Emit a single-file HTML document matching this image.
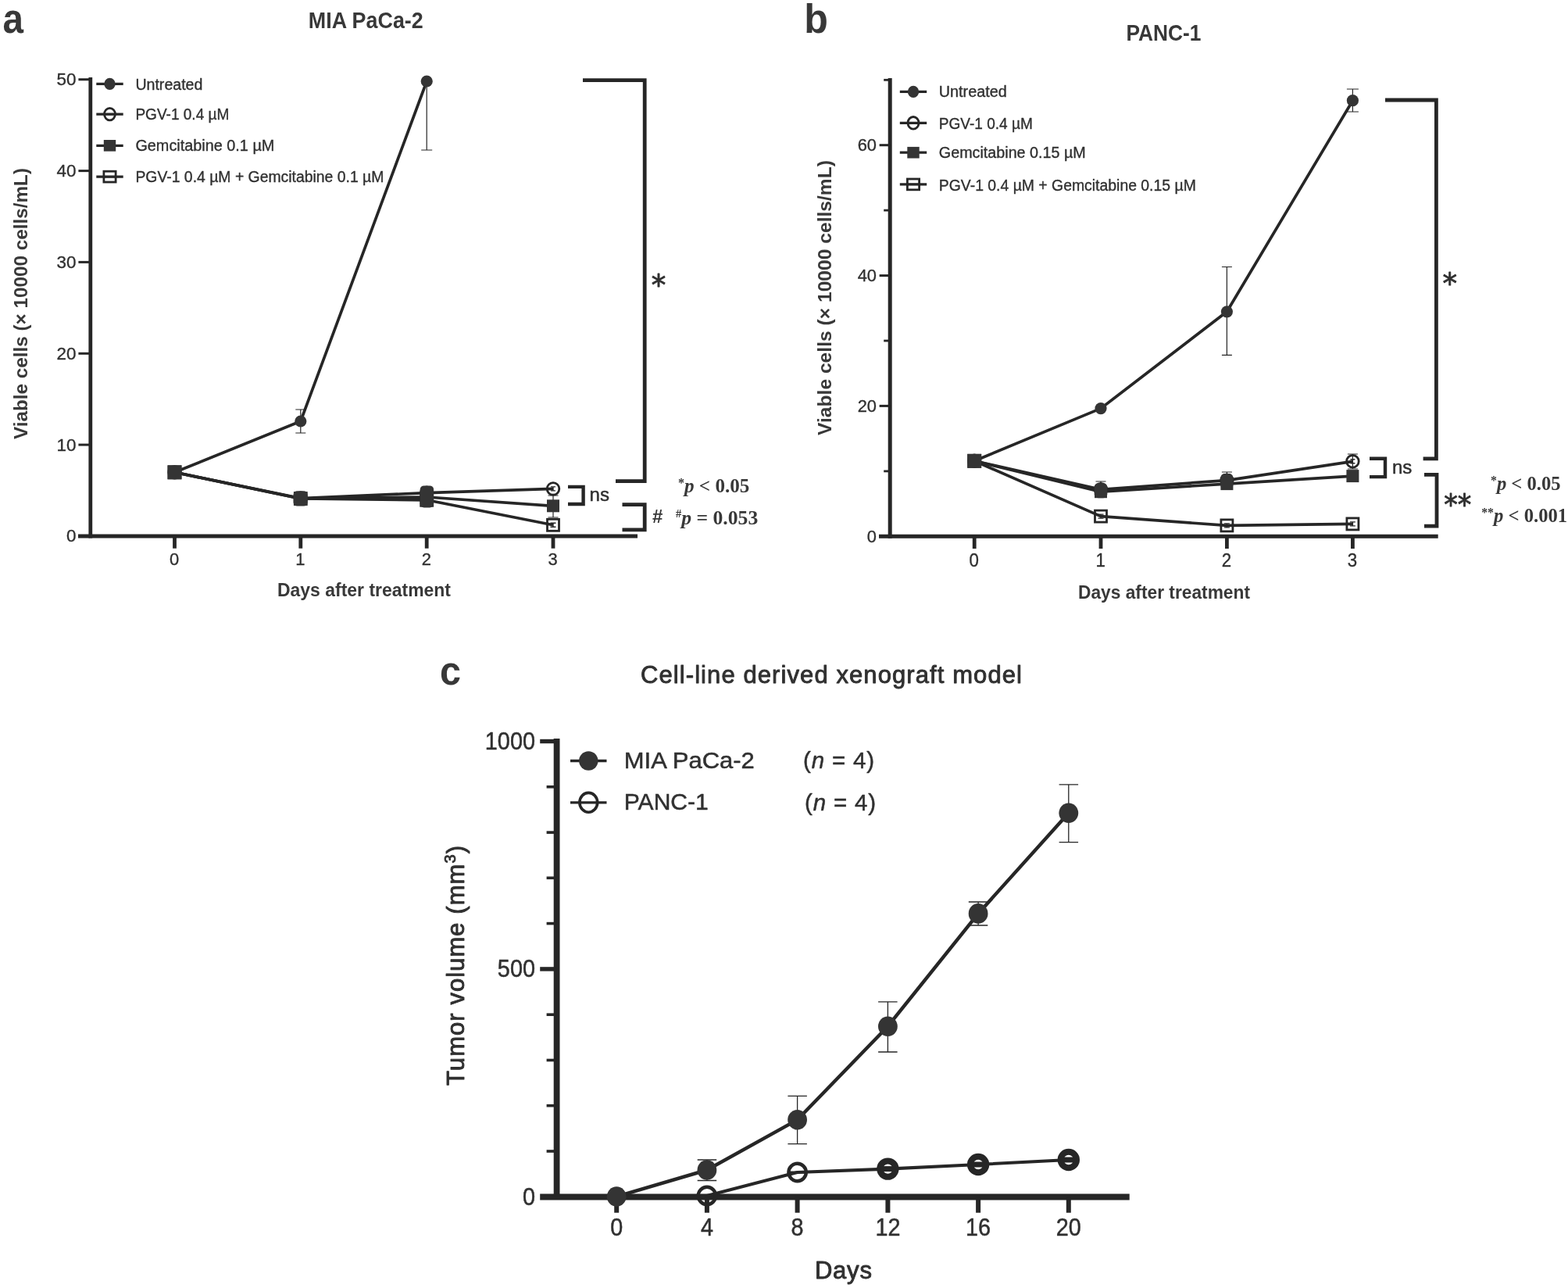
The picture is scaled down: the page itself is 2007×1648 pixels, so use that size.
<!DOCTYPE html>
<html lang="en">
<head>
<meta charset="utf-8">
<title>Figure: cell viability and xenograft tumor volume</title>
<style>
html,body{margin:0;padding:0;background:#fff;}
body{width:2007px;height:1648px;overflow:hidden;}
svg{display:block;}
text{stroke:#303030;stroke-width:0.35px;stroke-linejoin:round;white-space:pre;}
text[font-weight="bold"]{stroke:none;}
.s{font-family:"Liberation Sans",sans-serif;}
.r{font-family:"Liberation Serif",serif;}
.d{font-family:"DejaVu Sans","Liberation Sans",sans-serif;}
</style>
</head>
<body>
<svg width="2007" height="1648" viewBox="0 0 2007 1648">
<rect width="2007" height="1648" fill="#fff"/>
<g stroke="#262626" fill="#303030">
<g id="panel-a">
<line x1="115.8" y1="99.0" x2="115.8" y2="688.4" stroke-width="4.8"/>
<line x1="100.0" y1="686.0" x2="816.0" y2="686.0" stroke-width="5"/>
<line x1="100.4" y1="101.7" x2="115.8" y2="101.7" stroke-width="3"/>
<text x="97.4" y="109.1" font-size="22.4" class="s" text-anchor="end" textLength="24.9" lengthAdjust="spacingAndGlyphs">50</text>
<line x1="100.4" y1="218.6" x2="115.8" y2="218.6" stroke-width="3"/>
<text x="97.4" y="226.0" font-size="22.4" class="s" text-anchor="end" textLength="24.9" lengthAdjust="spacingAndGlyphs">40</text>
<line x1="100.4" y1="335.4" x2="115.8" y2="335.4" stroke-width="3"/>
<text x="97.4" y="342.8" font-size="22.4" class="s" text-anchor="end" textLength="24.9" lengthAdjust="spacingAndGlyphs">30</text>
<line x1="100.4" y1="452.3" x2="115.8" y2="452.3" stroke-width="3"/>
<text x="97.4" y="459.7" font-size="22.4" class="s" text-anchor="end" textLength="24.9" lengthAdjust="spacingAndGlyphs">20</text>
<line x1="100.4" y1="569.1" x2="115.8" y2="569.1" stroke-width="3"/>
<text x="97.4" y="576.5" font-size="22.4" class="s" text-anchor="end" textLength="24.9" lengthAdjust="spacingAndGlyphs">10</text>
<text x="97.4" y="693.4" font-size="22.4" class="s" text-anchor="end" textLength="12.45" lengthAdjust="spacingAndGlyphs">0</text>
<line x1="223.5" y1="686.0" x2="223.5" y2="701.7" stroke-width="4.8"/>
<text x="223.1" y="723.1" font-size="22.4" class="s" text-anchor="middle" textLength="12.2" lengthAdjust="spacingAndGlyphs">0</text>
<line x1="384.8" y1="686.0" x2="384.8" y2="701.7" stroke-width="4.8"/>
<text x="384.4" y="723.1" font-size="22.4" class="s" text-anchor="middle" textLength="12.2" lengthAdjust="spacingAndGlyphs">1</text>
<line x1="546.2" y1="686.0" x2="546.2" y2="701.7" stroke-width="4.8"/>
<text x="545.8" y="723.1" font-size="22.4" class="s" text-anchor="middle" textLength="12.2" lengthAdjust="spacingAndGlyphs">2</text>
<line x1="708.0" y1="686.0" x2="708.0" y2="701.7" stroke-width="4.8"/>
<text x="707.6" y="723.1" font-size="22.4" class="s" text-anchor="middle" textLength="12.2" lengthAdjust="spacingAndGlyphs">3</text>
<polyline points="223.5,604.3 384.8,539.0 546.2,104.0" fill="none" stroke-width="3.7" stroke-linejoin="round"/>
<polyline points="223.5,604.3 384.8,637.5 546.2,630.6 708.0,625.4" fill="none" stroke-width="3.7" stroke-linejoin="round"/>
<polyline points="223.5,604.3 384.8,638.0 546.2,636.0 708.0,647.3" fill="none" stroke-width="3.7" stroke-linejoin="round"/>
<polyline points="223.5,604.3 384.8,638.0 546.2,639.8 708.0,671.8" fill="none" stroke-width="3.7" stroke-linejoin="round"/>
<path d="M384.8 524.0V554.0M378.3 524.0h13M378.3 554.0h13" fill="none" stroke-width="1.2"/>
<path d="M546.2 104.0V192.0M539.2 104.0h14M539.2 192.0h14" fill="none" stroke-width="1.2"/>
<path d="M708.0 634.0V662.0M701.5 634.0h13M701.5 662.0h13" fill="none" stroke-width="1.2"/>
<ellipse cx="223.5" cy="604.3" rx="7.80" ry="7.80" fill="none" stroke-width="2.8"/>
<path d="M220.5 601.8h6M223.5 601.8v5M220.5 606.8h6" fill="none" stroke-width="1.4"/>
<ellipse cx="384.8" cy="637.5" rx="7.80" ry="7.80" fill="none" stroke-width="2.8"/>
<path d="M381.8 635.0h6M384.8 635.0v5M381.8 640.0h6" fill="none" stroke-width="1.4"/>
<ellipse cx="546.2" cy="630.6" rx="7.80" ry="7.80" fill="none" stroke-width="2.8"/>
<path d="M543.2 628.1h6M546.2 628.1v5M543.2 633.1h6" fill="none" stroke-width="1.4"/>
<ellipse cx="708.0" cy="625.4" rx="7.80" ry="7.80" fill="none" stroke-width="2.8"/>
<path d="M705.0 622.9h6M708.0 622.9v5M705.0 627.9h6" fill="none" stroke-width="1.4"/>
<rect x="216.0" y="596.8" width="15.0" height="15.0" fill="none" stroke-width="2.8"/>
<path d="M220.0 601.8h7M223.5 601.8v5M220.0 606.8h7" fill="none" stroke-width="1.4"/>
<rect x="377.3" y="630.5" width="15.0" height="15.0" fill="none" stroke-width="2.8"/>
<path d="M381.3 635.5h7M384.8 635.5v5M381.3 640.5h7" fill="none" stroke-width="1.4"/>
<rect x="538.7" y="632.3" width="15.0" height="15.0" fill="none" stroke-width="2.8"/>
<path d="M542.7 637.3h7M546.2 637.3v5M542.7 642.3h7" fill="none" stroke-width="1.4"/>
<rect x="700.5" y="664.3" width="15.0" height="15.0" fill="none" stroke-width="2.8"/>
<path d="M704.5 669.3h7M708.0 669.3v5M704.5 674.3h7" fill="none" stroke-width="1.4"/>
<ellipse cx="223.5" cy="604.3" rx="7.6" ry="7.6" fill="#343434" stroke="none"/>
<ellipse cx="384.8" cy="539.0" rx="7.6" ry="7.6" fill="#343434" stroke="none"/>
<ellipse cx="546.2" cy="104.0" rx="7.6" ry="7.6" fill="#343434" stroke="none"/>
<rect x="215.5" y="596.3" width="16" height="16" fill="#343434" stroke="none"/>
<rect x="376.8" y="630.0" width="16" height="16" fill="#343434" stroke="none"/>
<rect x="538.2" y="628.0" width="16" height="16" fill="#343434" stroke="none"/>
<rect x="700.0" y="639.3" width="16" height="16" fill="#343434" stroke="none"/>
<rect x="214.5" y="595.3" width="18" height="18" fill="#343434" stroke="none"/>
<rect x="537.7" y="621.4" width="17.4" height="28.0" rx="5" fill="#343434" stroke="none"/>
<rect x="375.5" y="628.2" width="18.2" height="19.4" rx="5" fill="#343434" stroke="none"/>
<line x1="123.3" y1="107.4" x2="157.7" y2="107.4" stroke-width="3.2"/>
<ellipse cx="140.5" cy="107.4" rx="7.2" ry="7.6" fill="#343434" stroke="none"/>
<text x="173.4" y="114.5" font-size="19.4" class="s" textLength="86" lengthAdjust="spacingAndGlyphs">Untreated</text>
<line x1="123.3" y1="146.1" x2="157.7" y2="146.1" stroke-width="3.2"/>
<ellipse cx="140.5" cy="146.1" rx="7.00" ry="7.80" fill="none" stroke-width="2.8"/>
<line x1="134.5" y1="146.1" x2="146.5" y2="146.1" stroke-width="2.4"/>
<text x="173.4" y="153.3" font-size="19.4" class="s" textLength="120" lengthAdjust="spacingAndGlyphs">PGV-1 0.4 µM</text>
<line x1="123.3" y1="186.3" x2="157.7" y2="186.3" stroke-width="3.2"/>
<rect x="132.8" y="179.0" width="15.4" height="14.6" fill="#343434" stroke="none"/>
<text x="173.4" y="193.4" font-size="19.4" class="s" textLength="178" lengthAdjust="spacingAndGlyphs">Gemcitabine 0.1 µM</text>
<line x1="123.3" y1="226.1" x2="157.7" y2="226.1" stroke-width="3.2"/>
<rect x="132.9" y="219.2" width="15.2" height="13.8" fill="none" stroke-width="2.8"/>
<line x1="133.5" y1="226.1" x2="147.5" y2="226.1" stroke-width="2.4"/>
<text x="173.4" y="233.2" font-size="19.4" class="s" textLength="318" lengthAdjust="spacingAndGlyphs">PGV-1 0.4 µM + Gemcitabine 0.1 µM</text>
<text x="3.5" y="42.0" font-size="54" class="s" font-weight="bold" textLength="26.5" lengthAdjust="spacingAndGlyphs" fill="#383838">a</text>
<text x="468.3" y="36.3" font-size="28.6" class="s" font-weight="bold" text-anchor="middle" textLength="147" lengthAdjust="spacingAndGlyphs" fill="#383838">MIA PaCa-2</text>
<text x="35.0" y="388.5" font-size="24.3" class="s" font-weight="bold" text-anchor="middle" transform="rotate(-90 35.0 388.5)" textLength="347" lengthAdjust="spacingAndGlyphs" fill="#383838">Viable cells (× 10000 cells/mL)</text>
<text x="466.0" y="763.0" font-size="23" class="s" font-weight="bold" text-anchor="middle" textLength="222" lengthAdjust="spacingAndGlyphs" fill="#383838">Days after treatment</text>
<path d="M746.0 102.7H825.2V615.7H788.0" fill="none" stroke-width="4.8" stroke-linejoin="miter"/>
<text x="842.9" y="378.2" font-size="37" class="d" text-anchor="middle" style="stroke:#303030;stroke-width:0.9px;stroke-linejoin:round">*</text>
<path d="M727.0 622.9H746.6V645.0H727.0" fill="none" stroke-width="4.4" stroke-linejoin="miter"/>
<text x="754.6" y="641.4" font-size="24" class="s" style="stroke:#303030;stroke-width:0.5px">ns</text>
<path d="M796.5 645.7H825.2V677.9H796.5" fill="none" stroke-width="4.8" stroke-linejoin="miter"/>
<text x="841.7" y="668.8" font-size="24" class="s" font-weight="bold" text-anchor="middle" fill="#383838">#</text>
<text x="868.0" y="629.6" font-size="25" class="r" font-weight="bold" fill="#383838" textLength="91.4" lengthAdjust="spacingAndGlyphs"><tspan font-size="16" dy="-7">*</tspan><tspan dy="7" font-style="italic">p</tspan> &lt; 0.05</text>
<text x="865.0" y="670.8" font-size="25" class="r" font-weight="bold" fill="#383838" textLength="105.3" lengthAdjust="spacingAndGlyphs"><tspan font-size="14" dy="-9">#</tspan><tspan dy="9" font-style="italic">p</tspan> = 0.053</text>
</g>
<g id="panel-b">
<line x1="1139.2" y1="99.9" x2="1139.2" y2="688.7" stroke-width="5"/>
<line x1="1125.0" y1="686.3" x2="1840.7" y2="686.3" stroke-width="5"/>
<line x1="1131.2" y1="102.3" x2="1139.2" y2="102.3" stroke-width="2.8"/>
<line x1="1125.6" y1="185.7" x2="1139.2" y2="185.7" stroke-width="3"/>
<text x="1122.0" y="193.1" font-size="22.6" class="s" text-anchor="end" textLength="24.3" lengthAdjust="spacingAndGlyphs">60</text>
<line x1="1131.2" y1="269.1" x2="1139.2" y2="269.1" stroke-width="2.8"/>
<line x1="1125.6" y1="352.6" x2="1139.2" y2="352.6" stroke-width="3"/>
<text x="1122.0" y="360.0" font-size="22.6" class="s" text-anchor="end" textLength="24.3" lengthAdjust="spacingAndGlyphs">40</text>
<line x1="1131.2" y1="436.0" x2="1139.2" y2="436.0" stroke-width="2.8"/>
<line x1="1125.6" y1="519.4" x2="1139.2" y2="519.4" stroke-width="3"/>
<text x="1122.0" y="526.8" font-size="22.6" class="s" text-anchor="end" textLength="24.3" lengthAdjust="spacingAndGlyphs">20</text>
<line x1="1131.2" y1="602.9" x2="1139.2" y2="602.9" stroke-width="2.8"/>
<text x="1122.0" y="693.7" font-size="22.6" class="s" text-anchor="end" textLength="12.15" lengthAdjust="spacingAndGlyphs">0</text>
<line x1="1247.2" y1="686.3" x2="1247.2" y2="702.0" stroke-width="4.8"/>
<text x="1246.8" y="725.4" font-size="24.5" class="s" text-anchor="middle" textLength="12.4" lengthAdjust="spacingAndGlyphs">0</text>
<line x1="1409.0" y1="686.3" x2="1409.0" y2="702.0" stroke-width="4.8"/>
<text x="1408.6" y="725.4" font-size="24.5" class="s" text-anchor="middle" textLength="12.4" lengthAdjust="spacingAndGlyphs">1</text>
<line x1="1570.4" y1="686.3" x2="1570.4" y2="702.0" stroke-width="4.8"/>
<text x="1570.0" y="725.4" font-size="24.5" class="s" text-anchor="middle" textLength="12.4" lengthAdjust="spacingAndGlyphs">2</text>
<line x1="1731.4" y1="686.3" x2="1731.4" y2="702.0" stroke-width="4.8"/>
<text x="1731.0" y="725.4" font-size="24.5" class="s" text-anchor="middle" textLength="12.4" lengthAdjust="spacingAndGlyphs">3</text>
<polyline points="1247.2,589.8 1409.0,522.6 1570.4,398.8 1731.4,128.7" fill="none" stroke-width="3.7" stroke-linejoin="round"/>
<polyline points="1247.2,589.8 1409.0,626.3 1570.4,614.6 1731.4,590.3" fill="none" stroke-width="3.7" stroke-linejoin="round"/>
<polyline points="1247.2,589.8 1409.0,629.2 1570.4,619.1 1731.4,609.1" fill="none" stroke-width="3.7" stroke-linejoin="round"/>
<polyline points="1247.2,589.8 1409.0,660.6 1570.4,672.4 1731.4,670.4" fill="none" stroke-width="3.7" stroke-linejoin="round"/>
<path d="M1570.4 341.5V454.3M1563.9 341.5h13M1563.9 454.3h13" fill="none" stroke-width="1.2"/>
<path d="M1731.4 114.0V143.0M1723.9 114.0h15M1723.9 143.0h15" fill="none" stroke-width="1.2"/>
<path d="M1731.4 581.0V600.0M1724.9 581.0h13M1724.9 600.0h13" fill="none" stroke-width="1.2"/>
<path d="M1570.4 604.0V623.0M1563.9 604.0h13M1563.9 623.0h13" fill="none" stroke-width="1.2"/>
<path d="M1409.0 616.0V634.0M1402.5 616.0h13M1402.5 634.0h13" fill="none" stroke-width="1.2"/>
<ellipse cx="1247.2" cy="589.8" rx="7.80" ry="7.80" fill="none" stroke-width="2.8"/>
<path d="M1244.2 587.3h6M1247.2 587.3v5M1244.2 592.3h6" fill="none" stroke-width="1.4"/>
<ellipse cx="1409.0" cy="626.3" rx="7.80" ry="7.80" fill="none" stroke-width="2.8"/>
<path d="M1406.0 623.8h6M1409.0 623.8v5M1406.0 628.8h6" fill="none" stroke-width="1.4"/>
<ellipse cx="1570.4" cy="614.6" rx="7.80" ry="7.80" fill="none" stroke-width="2.8"/>
<path d="M1567.4 612.1h6M1570.4 612.1v5M1567.4 617.1h6" fill="none" stroke-width="1.4"/>
<ellipse cx="1731.4" cy="590.3" rx="7.80" ry="7.80" fill="none" stroke-width="2.8"/>
<path d="M1728.4 587.8h6M1731.4 587.8v5M1728.4 592.8h6" fill="none" stroke-width="1.4"/>
<rect x="1239.7" y="582.3" width="15.0" height="15.0" fill="none" stroke-width="2.8"/>
<path d="M1243.7 587.3h7M1247.2 587.3v5M1243.7 592.3h7" fill="none" stroke-width="1.4"/>
<rect x="1401.5" y="653.1" width="15.0" height="15.0" fill="none" stroke-width="2.8"/>
<path d="M1405.5 658.1h7M1409.0 658.1v5M1405.5 663.1h7" fill="none" stroke-width="1.4"/>
<rect x="1562.9" y="664.9" width="15.0" height="15.0" fill="none" stroke-width="2.8"/>
<path d="M1566.9 669.9h7M1570.4 669.9v5M1566.9 674.9h7" fill="none" stroke-width="1.4"/>
<rect x="1723.9" y="662.9" width="15.0" height="15.0" fill="none" stroke-width="2.8"/>
<path d="M1727.9 667.9h7M1731.4 667.9v5M1727.9 672.9h7" fill="none" stroke-width="1.4"/>
<ellipse cx="1247.2" cy="589.8" rx="7.6" ry="7.6" fill="#343434" stroke="none"/>
<ellipse cx="1409.0" cy="522.6" rx="7.6" ry="7.6" fill="#343434" stroke="none"/>
<ellipse cx="1570.4" cy="398.8" rx="7.6" ry="7.6" fill="#343434" stroke="none"/>
<ellipse cx="1731.4" cy="128.7" rx="7.6" ry="7.6" fill="#343434" stroke="none"/>
<rect x="1239.2" y="581.8" width="16" height="16" fill="#343434" stroke="none"/>
<rect x="1401.0" y="621.2" width="16" height="16" fill="#343434" stroke="none"/>
<rect x="1562.4" y="611.1" width="16" height="16" fill="#343434" stroke="none"/>
<rect x="1723.4" y="601.1" width="16" height="16" fill="#343434" stroke="none"/>
<rect x="1238.2" y="580.8" width="18" height="18" fill="#343434" stroke="none"/>
<rect x="1400.7" y="618.2" width="16.6" height="19.0" rx="5" fill="#343434" stroke="none"/>
<rect x="1562.6" y="606.0" width="15.6" height="20.8" rx="5" fill="#343434" stroke="none"/>
<line x1="1151.8" y1="117.4" x2="1186.2" y2="117.4" stroke-width="3.2"/>
<ellipse cx="1169.0" cy="117.4" rx="7.2" ry="7.6" fill="#343434" stroke="none"/>
<text x="1201.8" y="123.8" font-size="19.4" class="s" textLength="87" lengthAdjust="spacingAndGlyphs">Untreated</text>
<line x1="1151.8" y1="157.3" x2="1186.2" y2="157.3" stroke-width="3.2"/>
<ellipse cx="1169.0" cy="157.3" rx="7.00" ry="7.80" fill="none" stroke-width="2.8"/>
<line x1="1163.0" y1="157.3" x2="1175.0" y2="157.3" stroke-width="2.4"/>
<text x="1201.8" y="164.6" font-size="19.4" class="s" textLength="120" lengthAdjust="spacingAndGlyphs">PGV-1 0.4 µM</text>
<line x1="1151.8" y1="195.2" x2="1186.2" y2="195.2" stroke-width="3.2"/>
<rect x="1161.3" y="187.9" width="15.4" height="14.6" fill="#343434" stroke="none"/>
<text x="1201.8" y="201.7" font-size="19.4" class="s" textLength="188" lengthAdjust="spacingAndGlyphs">Gemcitabine 0.15 µM</text>
<line x1="1151.8" y1="235.9" x2="1186.2" y2="235.9" stroke-width="3.2"/>
<rect x="1161.4" y="229.0" width="15.2" height="13.8" fill="none" stroke-width="2.8"/>
<line x1="1162.0" y1="235.9" x2="1176.0" y2="235.9" stroke-width="2.4"/>
<text x="1201.8" y="243.5" font-size="19.4" class="s" textLength="329" lengthAdjust="spacingAndGlyphs">PGV-1 0.4 µM + Gemcitabine 0.15 µM</text>
<text x="1029.2" y="42.0" font-size="51" class="s" font-weight="bold" textLength="30.6" lengthAdjust="spacingAndGlyphs" fill="#383838">b</text>
<text x="1489.5" y="52.4" font-size="29.4" class="s" font-weight="bold" text-anchor="middle" textLength="96" lengthAdjust="spacingAndGlyphs" fill="#383838">PANC-1</text>
<text x="1063.5" y="381.0" font-size="24.3" class="s" font-weight="bold" text-anchor="middle" transform="rotate(-90 1063.5 381.0)" textLength="352" lengthAdjust="spacingAndGlyphs" fill="#383838">Viable cells (× 10000 cells/mL)</text>
<text x="1490.0" y="766.0" font-size="23" class="s" font-weight="bold" text-anchor="middle" textLength="220" lengthAdjust="spacingAndGlyphs" fill="#383838">Days after treatment</text>
<path d="M1773.0 128.0H1838.4V586.8H1821.6" fill="none" stroke-width="4.8" stroke-linejoin="miter"/>
<text x="1855.8" y="375.6" font-size="37" class="d" text-anchor="middle" style="stroke:#303030;stroke-width:0.9px;stroke-linejoin:round">*</text>
<path d="M1753.0 586.8H1773.0V610.1H1753.0" fill="none" stroke-width="4.4" stroke-linejoin="miter"/>
<text x="1782.0" y="606.0" font-size="24" class="s" style="stroke:#303030;stroke-width:0.5px">ns</text>
<path d="M1823.0 607.3H1839.0V673.1H1823.0" fill="none" stroke-width="4.8" stroke-linejoin="miter"/>
<text x="1865.7" y="658.8" font-size="37" class="d" text-anchor="middle" textLength="35" lengthAdjust="spacingAndGlyphs" style="stroke:#303030;stroke-width:0.9px;stroke-linejoin:round">**</text>
<text x="1908.0" y="626.6" font-size="25" class="r" font-weight="bold" fill="#383838" textLength="89.6" lengthAdjust="spacingAndGlyphs"><tspan font-size="16" dy="-7">*</tspan><tspan dy="7" font-style="italic">p</tspan> &lt; 0.05</text>
<text x="1896.2" y="667.7" font-size="25" class="r" font-weight="bold" fill="#383838" textLength="110" lengthAdjust="spacingAndGlyphs"><tspan font-size="16" dy="-7">**</tspan><tspan dy="7" font-style="italic">p</tspan> &lt; 0.001</text>
</g>
<g id="panel-c">
<line x1="712.6" y1="945.1" x2="712.6" y2="1535.1" stroke-width="7.8"/>
<line x1="691.2" y1="1531.5" x2="1445.7" y2="1531.5" stroke-width="7.8"/>
<line x1="699.6" y1="1473.0" x2="712.6" y2="1473.0" stroke-width="3.6"/>
<line x1="699.6" y1="1414.7" x2="712.6" y2="1414.7" stroke-width="3.6"/>
<line x1="699.6" y1="1356.5" x2="712.6" y2="1356.5" stroke-width="3.6"/>
<line x1="699.6" y1="1298.2" x2="712.6" y2="1298.2" stroke-width="3.6"/>
<line x1="691.2" y1="1239.9" x2="712.6" y2="1239.9" stroke-width="5.4"/>
<line x1="699.6" y1="1181.6" x2="712.6" y2="1181.6" stroke-width="3.6"/>
<line x1="699.6" y1="1123.3" x2="712.6" y2="1123.3" stroke-width="3.6"/>
<line x1="699.6" y1="1065.1" x2="712.6" y2="1065.1" stroke-width="3.6"/>
<line x1="699.6" y1="1006.8" x2="712.6" y2="1006.8" stroke-width="3.6"/>
<line x1="691.2" y1="948.5" x2="712.6" y2="948.5" stroke-width="5.4"/>
<text x="685.0" y="958.7" font-size="30.5" class="s" text-anchor="end" textLength="64.2" lengthAdjust="spacingAndGlyphs" style="stroke:#303030;stroke-width:0.5px;stroke-linejoin:round">1000</text>
<text x="685.0" y="1250.1" font-size="30.5" class="s" text-anchor="end" textLength="48.150000000000006" lengthAdjust="spacingAndGlyphs" style="stroke:#303030;stroke-width:0.5px;stroke-linejoin:round">500</text>
<text x="685.0" y="1541.5" font-size="30.5" class="s" text-anchor="end" textLength="16.05" lengthAdjust="spacingAndGlyphs" style="stroke:#303030;stroke-width:0.5px;stroke-linejoin:round">0</text>
<line x1="789.2" y1="1531.3" x2="789.2" y2="1551.7" stroke-width="6"/>
<text x="789.2" y="1581.2" font-size="30.6" class="s" text-anchor="middle" textLength="16" lengthAdjust="spacingAndGlyphs" style="stroke:#303030;stroke-width:0.5px;stroke-linejoin:round">0</text>
<line x1="904.9" y1="1531.3" x2="904.9" y2="1551.7" stroke-width="6"/>
<text x="904.9" y="1581.2" font-size="30.6" class="s" text-anchor="middle" textLength="16" lengthAdjust="spacingAndGlyphs" style="stroke:#303030;stroke-width:0.5px;stroke-linejoin:round">4</text>
<line x1="1020.6" y1="1531.3" x2="1020.6" y2="1551.7" stroke-width="6"/>
<text x="1020.6" y="1581.2" font-size="30.6" class="s" text-anchor="middle" textLength="16" lengthAdjust="spacingAndGlyphs" style="stroke:#303030;stroke-width:0.5px;stroke-linejoin:round">8</text>
<line x1="1136.4" y1="1531.3" x2="1136.4" y2="1551.7" stroke-width="6"/>
<text x="1136.4" y="1581.2" font-size="30.6" class="s" text-anchor="middle" textLength="32" lengthAdjust="spacingAndGlyphs" style="stroke:#303030;stroke-width:0.5px;stroke-linejoin:round">12</text>
<line x1="1252.1" y1="1531.3" x2="1252.1" y2="1551.7" stroke-width="6"/>
<text x="1252.1" y="1581.2" font-size="30.6" class="s" text-anchor="middle" textLength="32" lengthAdjust="spacingAndGlyphs" style="stroke:#303030;stroke-width:0.5px;stroke-linejoin:round">16</text>
<line x1="1367.8" y1="1531.3" x2="1367.8" y2="1551.7" stroke-width="6"/>
<text x="1367.8" y="1581.2" font-size="30.6" class="s" text-anchor="middle" textLength="32" lengthAdjust="spacingAndGlyphs" style="stroke:#303030;stroke-width:0.5px;stroke-linejoin:round">20</text>
<polyline points="789.2,1531.0 904.9,1497.0 1020.6,1432.8 1136.4,1313.2 1252.1,1168.9 1367.8,1040.3" fill="none" stroke-width="4.5" stroke-linejoin="round"/>
<polyline points="904.9,1530.0 1020.6,1500.0 1136.4,1495.6 1252.1,1490.0 1367.8,1484.0" fill="none" stroke-width="4.1" stroke-linejoin="round"/>
<path d="M904.9 1484.0V1510.5M892.7 1484.0h24.5M892.7 1510.5h24.5" fill="none" stroke-width="1.3"/>
<path d="M1020.6 1402.3V1463.6M1008.4 1402.3h24.5M1008.4 1463.6h24.5" fill="none" stroke-width="1.3"/>
<path d="M1136.4 1281.8V1346.0M1124.1 1281.8h24.5M1124.1 1346.0h24.5" fill="none" stroke-width="1.3"/>
<path d="M1252.1 1154.0V1184.0M1239.8 1154.0h24.5M1239.8 1184.0h24.5" fill="none" stroke-width="1.3"/>
<path d="M1367.8 1003.9V1077.7M1355.6 1003.9h24.5M1355.6 1077.7h24.5" fill="none" stroke-width="1.3"/>
<ellipse cx="789.2" cy="1531.0" rx="12.4" ry="12.8" fill="#343434" stroke="none"/>
<ellipse cx="904.9" cy="1497.0" rx="12.4" ry="12.8" fill="#343434" stroke="none"/>
<ellipse cx="1020.6" cy="1432.8" rx="12.4" ry="12.8" fill="#343434" stroke="none"/>
<ellipse cx="1136.4" cy="1313.2" rx="12.4" ry="12.8" fill="#343434" stroke="none"/>
<ellipse cx="1252.1" cy="1168.9" rx="12.4" ry="12.8" fill="#343434" stroke="none"/>
<ellipse cx="1367.8" cy="1040.3" rx="12.4" ry="12.8" fill="#343434" stroke="none"/>
<ellipse cx="904.9" cy="1530.0" rx="11.20" ry="11.20" fill="none" stroke-width="4.4"/>
<ellipse cx="1020.6" cy="1500.0" rx="11.20" ry="11.20" fill="none" stroke-width="4.4"/>
<line x1="1010.6" y1="1500.0" x2="1030.6" y2="1500.0" stroke-width="3"/>
<ellipse cx="1136.4" cy="1495.6" rx="10.20" ry="10.20" fill="none" stroke-width="8"/>
<line x1="1126.4" y1="1495.6" x2="1146.4" y2="1495.6" stroke-width="7"/>
<ellipse cx="1252.1" cy="1490.0" rx="10.20" ry="10.20" fill="none" stroke-width="8"/>
<line x1="1242.1" y1="1490.0" x2="1262.1" y2="1490.0" stroke-width="7"/>
<ellipse cx="1367.8" cy="1484.0" rx="10.20" ry="10.20" fill="none" stroke-width="8"/>
<line x1="1357.8" y1="1484.0" x2="1377.8" y2="1484.0" stroke-width="7"/>
<line x1="730.0" y1="973.5" x2="776.5" y2="973.5" stroke-width="3.4"/>
<ellipse cx="753.3" cy="973.5" rx="12.2" ry="12.2" fill="#343434" stroke="none"/>
<ellipse cx="753.3" cy="1026.8" rx="11.40" ry="12.40" fill="none" stroke-width="3.6"/>
<line x1="730.0" y1="1026.8" x2="776.5" y2="1026.8" stroke-width="3.2"/>
<text x="798.8" y="982.6" font-size="29.5" class="s" textLength="167" lengthAdjust="spacingAndGlyphs" style="stroke:#303030;stroke-width:0.5px;stroke-linejoin:round">MIA PaCa-2</text>
<text x="798.8" y="1036.2" font-size="29.5" class="s" textLength="108" lengthAdjust="spacingAndGlyphs" style="stroke:#303030;stroke-width:0.5px;stroke-linejoin:round">PANC-1</text>
<text x="1028" y="982.8" font-size="29.5" class="s" textLength="91" lengthAdjust="spacing" style="stroke:#303030;stroke-width:0.5px;stroke-linejoin:round">(<tspan font-style="italic">n</tspan> = 4)</text>
<text x="1030" y="1036.6" font-size="29.5" class="s" textLength="91" lengthAdjust="spacing" style="stroke:#303030;stroke-width:0.5px;stroke-linejoin:round">(<tspan font-style="italic">n</tspan> = 4)</text>
<text x="563.0" y="876.2" font-size="52" class="s" font-weight="bold" textLength="27" lengthAdjust="spacingAndGlyphs" fill="#383838">c</text>
<text x="820.0" y="873.8" font-size="31" class="s" textLength="488" lengthAdjust="spacing" style="stroke:#303030;stroke-width:0.9px;stroke-linejoin:round">Cell-line derived xenograft model</text>
<text x="594" y="1235.5" font-size="31" class="s" text-anchor="middle" textLength="307" lengthAdjust="spacing" style="stroke:#303030;stroke-width:0.9px;stroke-linejoin:round" transform="rotate(-90 594 1235.5)">Tumor volume (mm<tspan font-size="20" dy="-11">3</tspan><tspan dy="11">)</tspan></text>
<text x="1079.4" y="1636.1" font-size="31" class="s" text-anchor="middle" textLength="73" lengthAdjust="spacing" style="stroke:#303030;stroke-width:0.9px;stroke-linejoin:round">Days</text>
</g>
</g>
</svg>
</body>
</html>
